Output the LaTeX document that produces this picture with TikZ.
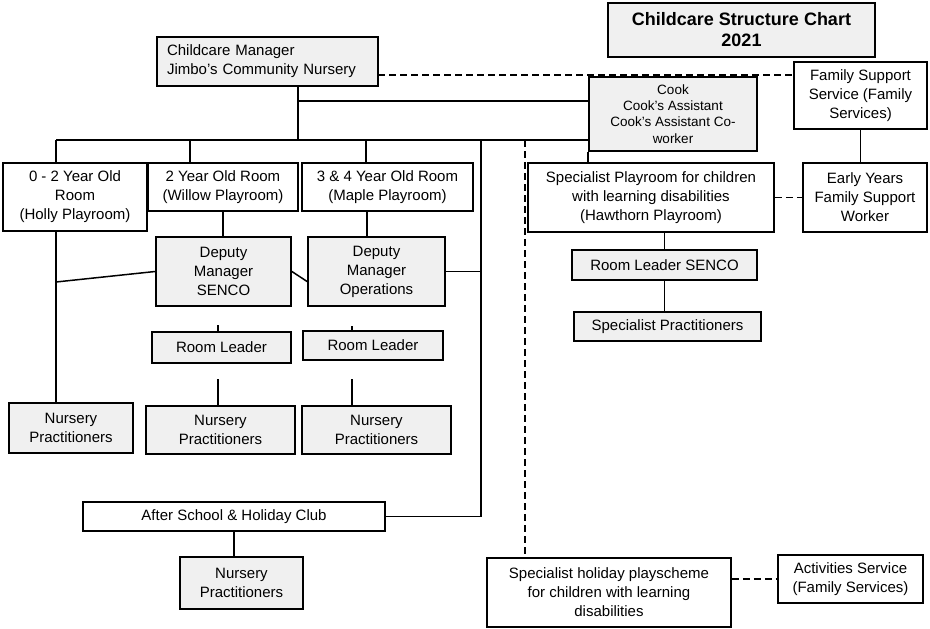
\documentclass[tikz,border=0pt]{standalone}
\usepackage{fontspec}
\setmainfont{Liberation Sans}
\usetikzlibrary{positioning, calc}
\definecolor{boxgrey}{HTML}{F0F0F0}
\tikzset{
  greybox/.style={rectangle, draw=black, line width=1.8pt, fill=boxgrey, align=center, inner sep=2pt, font=\fontsize{15}{19}\selectfont},
  whitebox/.style={greybox, fill=white},
  boxsize/.style 2 args={minimum width=#1pt, minimum height=#2pt},
  link/.style={line width=1.5pt},
  dashlink/.style={line width=1.5pt, dash pattern=on 7pt off 4pt}
}

\begin{document}
\begin{tikzpicture}[x=1pt, y=-1pt]
    \useasboundingbox (0,0) rectangle (930,629);

    % --- Titulo y direccion ---
    \node[greybox, boxsize={267}{54}, font=\fontsize{18}{21}\selectfont\bfseries] (title) at (741.5,30) {Childcare Structure Chart\\2021};
    \node[greybox, boxsize={221}{49}, align=left, text width=201pt, inner xsep=10pt] (mgr) at (267.5,61.5) {Childcare Manager\\Jimbo's Community Nursery};
    \node[greybox, boxsize={168}{74}, font=\fontsize{13.5}{16.3}\selectfont] (cook) at (673,114) {Cook\\Cook's Assistant\\Cook's Assistant Co-\\worker};
    \node[whitebox, boxsize={133}{67}] (fss) at (860.5,95.5) {Family Support\\Service (Family\\Services)};

    % --- Salas ---
    \node[whitebox, boxsize={144}{68}] (room02) at (75,197) {0 - 2 Year Old\\Room\\(Holly Playroom)};
    \node[whitebox, boxsize={150}{48}] (room2) at (223,187) {2 Year Old Room\\(Willow Playroom)};
    \node[whitebox, boxsize={171}{48}] (room34) at (387.5,187) {3 \& 4 Year Old Room\\(Maple Playroom)};
    \node[whitebox, boxsize={246}{69}] (spplay) at (651,197.5) {Specialist Playroom for children\\with learning disabilities\\(Hawthorn Playroom)};
    \node[whitebox, boxsize={124}{69}] (eyw) at (865,197.5) {Early Years\\Family Support\\Worker};

    % --- Subdirectores y responsables ---
    \node[greybox, boxsize={135}{69}] (depsenco) at (223.5,271.5) {Deputy\\Manager\\SENCO};
    \node[greybox, boxsize={137}{69}] (depops) at (376.5,271.5) {Deputy\\Manager\\Operations};
    \node[greybox, boxsize={139}{31}] (rl1) at (221.5,347.5) {Room Leader};
    \node[greybox, boxsize={140}{29}] (rl2) at (373,345.5) {Room Leader};
    \node[greybox, boxsize={185}{30}] (rlsenco) at (664.5,265) {Room Leader SENCO};
    \node[greybox, boxsize={187}{29}] (sppract) at (667.5,326.5) {Specialist Practitioners};

    % --- Personal ---
    \node[greybox, boxsize={124}{50}] (np1) at (71,428) {Nursery\\Practitioners};
    \node[greybox, boxsize={149}{48}] (np2) at (220.5,430) {Nursery\\Practitioners};
    \node[greybox, boxsize={149}{48}] (np3) at (376.5,430) {Nursery\\Practitioners};

    % --- Club y vacaciones ---
    \node[whitebox, boxsize={302}{29}] (club) at (234,516.5) {After School \& Holiday Club};
    \node[greybox, boxsize={123}{52}] (np4) at (241.5,583) {Nursery\\Practitioners};
    \node[whitebox, boxsize={244}{69}] (sphol) at (609,592.5) {Specialist holiday playscheme\\for children with learning\\disabilities};
    \node[whitebox, boxsize={145}{48}] (actsvc) at (850.5,579) {Activities Service\\(Family Services)};

    % --- Puntos de union ---
    \coordinate (bus) at (298,140);
    \coordinate (mid) at (298,101);
    \coordinate (d02) at (56,140);
    \coordinate (d2) at (190,140);
    \coordinate (d34) at (366,140);
    \coordinate (dright) at (481,140);
    \coordinate (ddash) at (525,140);
    \coordinate (dash1) at (378,75);
    \coordinate (j34) at (367,0);
    \coordinate (j1) at (218,0);
    \coordinate (j2) at (352,0);

    % --- Lineas de mando ---
    \draw[link] (bus |- mgr.south) -- (bus);
    \draw[link] (mid) -- (mid -| cook.west);
    \draw[link] (d02) -- (d02 -| cook.west);
    \draw[link] (d02) -- (d02 |- room02.north);
    \draw[link] (d2) -- (d2 |- room2.north);
    \draw[link] (d34) -- (d34 |- room34.north);
    \draw[link] (dright) -- (dright |- club.east) -- (club.east);
    \draw[link] (cook.south west) -- (cook.south west |- spplay.north);
    \draw[link] (fss.south) -- (fss.south |- eyw.north);

    \draw[link] (room2.south) -- (room2.south |- depsenco.north);
    \draw[link] (j34 |- room34.south) -- (j34 |- depops.north);
    \draw[link] (depsenco.east) -- ($(depops.west)+(0,10)$);
    \draw[link] (d02 |- room02.south) -- (d02 |- np1.north);
    \draw[link] (depsenco.west) -- (56,282);
    \draw[link] (depops.east) -- (depops.east -| dright);

    \draw[link] (j1 |- rl1.north) -- ++(0,-6);
    \draw[link] (j2 |- rl2.north) -- ++(0,-4);
    \draw[link] (j1 |- np2.north) -- ++(0,-26);
    \draw[link] (j2 |- np3.north) -- ++(0,-26);

    \draw[link] (rlsenco.north |- spplay.south) -- (rlsenco.north);
    \draw[link] (rlsenco.south) -- (rlsenco.south |- sppract.north);
    \draw[link] (club.south) -- (club.south |- np4.north);

    % --- Enlaces externos ---
    \draw[dashlink] (dash1) -- (dash1 -| fss.west);
    \draw[dashlink] (spplay.east) -- (eyw.west);
    \draw[dashlink] (ddash) -- (ddash |- sphol.north);
    \draw[dashlink] (actsvc.west -| sphol.east) -- (actsvc.west);

\end{tikzpicture}
\end{document}
